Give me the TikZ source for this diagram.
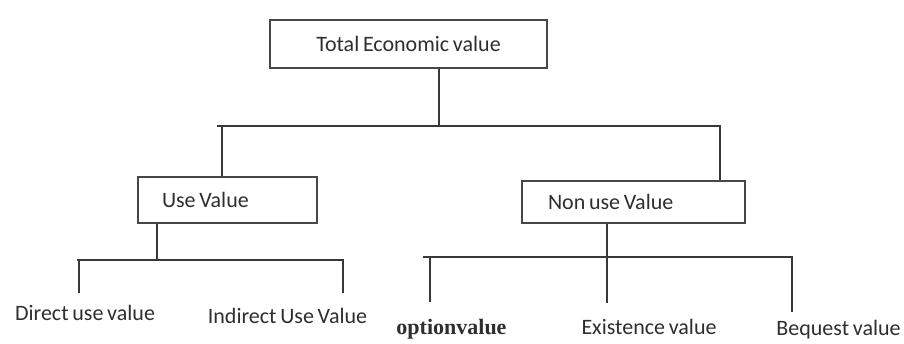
\documentclass[tikz,border=0pt]{standalone}
\usepackage{fontspec}
\setmainfont{Carlito}
\newfontfamily\serifbold{Liberation Serif}
\tikzset{
  ln/.style={draw=black!78, line width=1.3pt},
  box/.style={draw=black!72, line width=1.4pt, inner ysep=0pt, minimum height=#1},
  lbl/.style={text=black!82, font=\fontsize{22}{25}\selectfont, inner sep=0pt,
    execute at begin node={\spaceskip=0.17em plus 0.05em\relax}},
  leaf/.style={lbl, anchor=base},
}
\begin{document}
\begin{tikzpicture}[x=1pt,y=-1pt]
\useasboundingbox (0,0) rectangle (904,343);
% boxes
\node[box=48pt, minimum width=277pt, lbl, inner sep=0pt] (tev) at (408.5,44) {Total Economic value};
\node[box=46pt, minimum width=179pt, text width=131pt, align=left, lbl, inner xsep=24pt] (use) at (227.5,200) {Use Value};
\node[box=42pt, minimum width=223pt, text width=171pt, align=left, lbl, inner xsep=26pt] (non) at (633.5,202) {Non use Value};
% leaf labels
\node[leaf] (dir) at (85,320) {Direct use value};
\node[leaf] (ind) at (287.5,323) {Indirect Use Value};
\node[leaf, font=\serifbold\bfseries\fontsize{22}{25}\selectfont] (opt) at (451.5,334) {optionvalue};
\node[leaf] (exi) at (649,334) {Existence value};
\node[leaf] (beq) at (838.5,335) {Bequest value};
% junction coordinates
\coordinate (t1) at (439,126);
\coordinate (hl) at (217,126);
\coordinate (hr) at (720,126);
\coordinate (ul) at (222,126);
\coordinate (u1) at (157,260);
\coordinate (uhl) at (77,260);
\coordinate (uhr) at (343,260);
\coordinate (d1) at (79,260);
\coordinate (d1e) at (79,293);
\coordinate (d2e) at (343,293);
\coordinate (n1) at (607,257);
\coordinate (nhl) at (423,257);
\coordinate (nhr) at (792,257);
\coordinate (o1) at (430,257);
\coordinate (o1e) at (430,302);
\coordinate (e1e) at (607,303);
\coordinate (b1e) at (792,312);
% top level
\draw[ln] (tev.south -| t1) -- (t1);
\draw[ln] (hl) -- (hr) -- (non.north -| hr);
\draw[ln] (ul) -- (use.north -| ul);
% use value children
\draw[ln] (use.south -| u1) -- (u1);
\draw[ln] (d1e) -- (d1) -- (uhl) -- (uhr) -- (d2e);
% non use children
\draw[ln] (non.south -| n1) -- (e1e);
\draw[ln] (o1e) -- (o1) -- (nhl) -- (nhr) -- (b1e);
\end{tikzpicture}
\end{document}
